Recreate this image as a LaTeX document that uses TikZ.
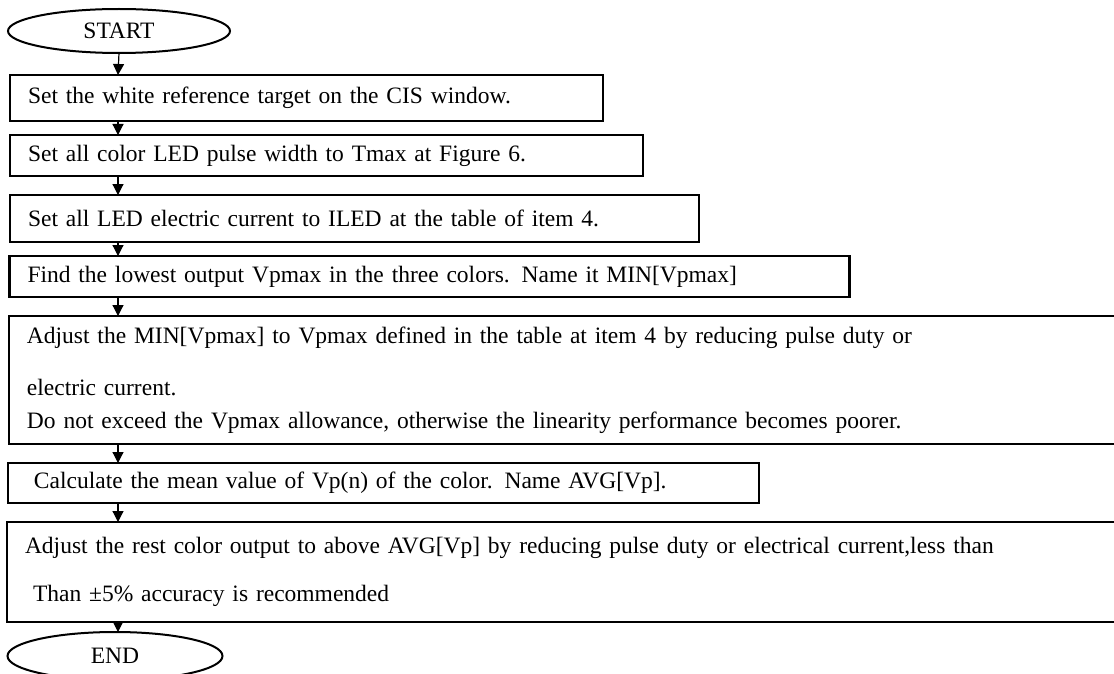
\documentclass[tikz,border=0pt]{standalone}
\usepackage{fontspec}
\setmainfont{Liberation Serif}
\usetikzlibrary{shapes.geometric,arrows.meta}

\begin{document}
\begin{tikzpicture}[x=1pt,y=-1pt]
\tikzstyle{every node}+=[inner sep=0pt, outer sep=0pt, font=\fontsize{23.5}{28}\selectfont]
\tikzstyle{term}=[draw, ellipse, line width=2pt]
\tikzstyle{box}=[draw, rectangle, line width=2.6pt, anchor=north west, align=left, inner xsep=18pt]
\tikzstyle{flow}=[line width=1.2pt, -{Triangle[length=11pt,width=11pt]}]
\path[use as bounding box, clip] (0,0) rectangle (1114,674);
% terminals
\node[term, minimum width=222pt, minimum height=44pt] (start) at (119,31) {START};
\coordinate (axis) at (118,0);
% steps
\node[box, text width=557pt, minimum height=46pt] (b1) at (10,75) {Set the white reference target on the CIS window.};
\node[box, text width=597pt, minimum height=41pt] (b2) at (10,135) {Set all color LED pulse width to Tmax at Figure 6.};
\node[box, text width=653pt, minimum height=47pt] (b3) at (10,195) {Set all LED electric current to ILED at the table of item 4.};
\node[box, text width=804pt, minimum height=41pt] (b4) at (9.5,256) {Find the lowest output Vpmax in the three colors. Name it MIN[Vpmax]};
\node[box, text width=1150pt, minimum height=128pt] (b5) at (9,316) {Adjust the MIN[Vpmax] to Vpmax defined in the table at item 4 by reducing pulse duty or\\[24pt]electric current.\\[5pt]Do not exceed the Vpmax allowance, otherwise the linearity performance becomes poorer.};
\node[box, text width=715pt, minimum height=40pt] (b6) at (8,463) {\hspace*{8pt}Calculate the mean value of Vp(n) of the color. Name AVG[Vp].};
\node[box, text width=1150pt, minimum height=100pt] (b7) at (7,522) {Adjust the rest color output to above AVG[Vp] by reducing pulse duty or electrical current,less than\\[20pt]\hspace*{8pt}Than ±5\% accuracy is recommended};
\node[term, minimum width=215pt, minimum height=48pt] (stop) at (115,656) {END};
% connectors
\draw[flow] (start.south) -- (axis |- b1.north);
\foreach \a/\b in {b1/b2,b2/b3,b3/b4,b4/b5,b5/b6,b6/b7}
  \draw[flow] (axis |- \a.south) -- (axis |- \b.north);
\draw[flow] (axis |- b7.south) -- (axis |- stop.north);
\end{tikzpicture}
\end{document}
